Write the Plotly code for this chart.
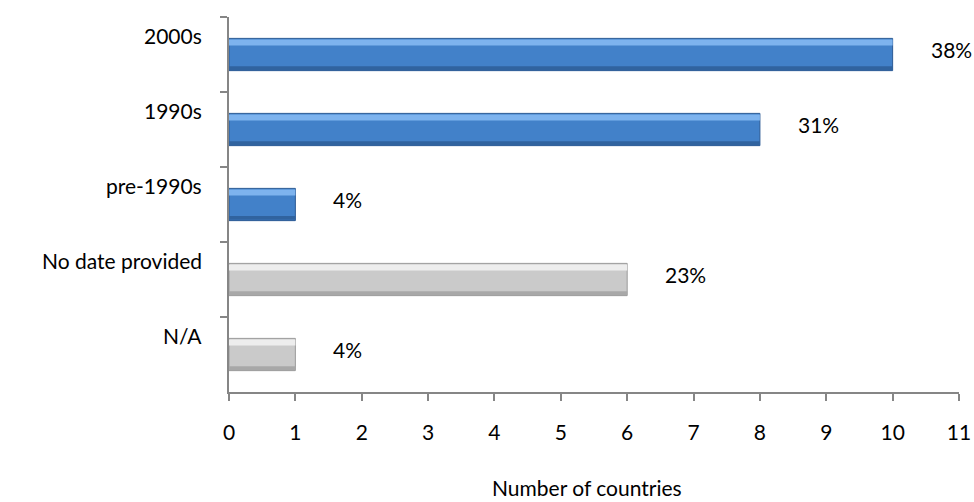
import plotly.graph_objects as go

categories = ["2000s", "1990s", "pre-1990s", "No date provided", "N/A"]
counts = [10, 8, 1, 6, 1]
pct_labels = ["38%", "31%", "4%", "23%", "4%"]
bar_colors = ["#4281C9", "#4281C9", "#4281C9", "#CACACA", "#CACACA"]
hi_colors = ["#7DB3EE", "#7DB3EE", "#7DB3EE", "#EDEDED", "#EDEDED"]
lo_colors = ["#30639F", "#30639F", "#30639F", "#A8A8A8", "#A8A8A8"]
edge_colors = ["#2B5A94", "#2B5A94", "#2B5A94", "#9A9A9A", "#9A9A9A"]
x_ticks = list(range(0, 12))

FONT = "Lato"
FS = 21

fig = go.Figure()
fig.add_trace(go.Bar(
    y=categories, x=counts, orientation="h", width=0.43, offset=-0.215,
    marker=dict(color=bar_colors, line=dict(color=edge_colors, width=1)),
    hoverinfo="skip",
))
fig.add_trace(go.Bar(
    y=categories, x=counts, orientation="h", width=0.08, offset=-0.2,
    marker=dict(color=hi_colors, line=dict(width=0)),
    hoverinfo="skip",
))
fig.add_trace(go.Bar(
    y=categories, x=counts, orientation="h", width=0.05, offset=0.155,
    marker=dict(color=lo_colors, line=dict(width=0)),
    hoverinfo="skip",
))

annotations = []
for c, v, t in zip(categories, counts, pct_labels):
    annotations.append(dict(x=v, y=c, xref="x", yref="y", text=t, showarrow=False,
                            xanchor="left", xshift=36, yshift=5,
                            font=dict(family=FONT, size=FS, color="#000000")))
    annotations.append(dict(x=0, y=c, xref="paper", yref="y", text=c, showarrow=False,
                            xanchor="right", xshift=-25, yshift=19,
                            font=dict(family=FONT, size=FS, color="#000000")))
annotations.append(dict(x=0.49, y=0, xref="paper", yref="paper", text="Number of countries",
                        showarrow=False, xanchor="center", yanchor="middle", yshift=-95,
                        font=dict(family=FONT, size=FS, color="#000000")))

fig.update_layout(
    width=974, height=502,
    margin=dict(l=229, r=15, t=17, b=110),
    plot_bgcolor="white", paper_bgcolor="white",
    showlegend=False, barmode="overlay",
    annotations=annotations,
    font=dict(family=FONT, size=FS, color="#000000"),
    xaxis=dict(
        range=[0, 11], tickvals=x_ticks, showgrid=False, zeroline=False,
        showline=True, linecolor="#868686", linewidth=1.5,
        ticks="outside", ticklen=7, tickcolor="#868686", tickwidth=1.5,
        ticklabelstandoff=14, automargin=False,
        tickfont=dict(family=FONT, size=FS, color="#000000"),
        fixedrange=True,
    ),
    yaxis=dict(
        type="category", autorange="reversed", showgrid=False, zeroline=False,
        showline=True, linecolor="#868686", linewidth=1.5,
        ticks="outside", ticklen=7, tickcolor="#868686", tickwidth=1.5,
        tickson="boundaries", showticklabels=False, automargin=False,
        fixedrange=True,
    ),
)

fig.write_html("out.html")
